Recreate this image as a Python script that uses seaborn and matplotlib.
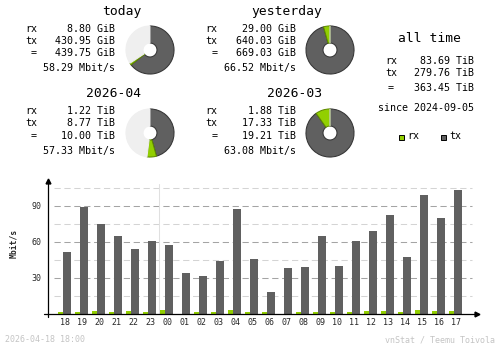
import matplotlib
matplotlib.use("Agg")
import matplotlib.pyplot as plt
from matplotlib.lines import Line2D
from matplotlib.patches import Rectangle
import pandas as pd
import seaborn as sns

# ---- hourly traffic, Mbit/s ----
hours = ["18", "19", "20", "21", "22", "23", "00", "01", "02", "03", "04", "05",
         "06", "07", "08", "09", "10", "11", "12", "13", "14", "15", "16", "17"]
rx_rate = [0.9, 0.9, 1.7, 0.9, 1.7, 0.9, 2.6, 0.0, 0.9, 0.9, 2.6, 0.9,
           0.9, 0.0, 0.9, 0.9, 0.9, 0.9, 1.7, 1.7, 0.9, 2.6, 1.7, 1.7]
tx_rate = [50.9, 88.6, 74.5, 64.2, 53.4, 60.4, 56.8, 33.5, 31.0, 43.8, 86.7, 45.1,
           17.7, 37.7, 38.5, 64.2, 39.3, 60.1, 68.4, 82.5, 46.8, 99.1, 80.0, 103.3]
y_ticks = [30, 60, 90]
minor_grid = [15, 45, 75, 105]

# ---- period summaries ----
periods = ["today", "yesterday", "2026-04", "2026-03"]
period_rx = [8.80, 29.00, 1.22, 1.88]
period_tx = [430.95, 640.03, 8.77, 17.33]
period_total = [439.75, 669.03, 10.00, 19.21]
period_unit = ["GiB", "GiB", "TiB", "TiB"]
period_rate = [58.29, 66.52, 57.33, 63.08]
period_ref = [1, 1, 3, 3]          # donut scaled against the larger of the pair

alltime_rx = 83.69
alltime_tx = 279.76
alltime_total = 363.45
alltime_since = "2024-09-05"
stamp = "2026-04-18 18:00"
credit = "vnStat / Teemu Toivola"

RX = "#92cf00"
RX_EDGE = "#5f8a00"
TX = "#606060"
TX_EDGE = "#353535"
REST = "#efefef"
GRID_D = "#a4a4a4"
GRID_L = "#d4d4d4"
FAINT = "#c4c4c4"

sns.set_style("white")
plt.rcParams["font.family"] = ["DejaVu Sans Mono", "DejaVu Sans"]

W, H = 500, 348
fig = plt.figure(figsize=(W / 100, H / 100), dpi=100)
fig.patch.set_facecolor("white")


def fx(x):
    return x / W


def fy(y):
    return 1 - y / H


def put(x, y, s, ha="left", size=7.2, **kw):
    fig.text(fx(x), fy(y), s, ha=ha, va="center", fontsize=size, color="black", **kw)


# ---- summary text blocks and donuts ----
col_label_x = [25, 205.5]
col_value_x = [115, 295.5]
col_title_x = [141.5, 322]
row_title_y = [11.0, 93.5]
row_line_y = [[28.5, 40.5, 53.5, 68.0], [111.0, 123.5, 136.5, 151.0]]
donut_cx = [150, 330]
donut_cy = [50, 133]

for i, name in enumerate(periods):
    col = i % 2
    row = i // 2
    lx, vx = col_label_x[col], col_value_x[col]
    ys = row_line_y[row]
    u = period_unit[i]
    put(col_title_x[col], row_title_y[row], name, ha="right", size=9.4)
    put(lx, ys[0], "rx")
    put(lx, ys[1], "tx")
    put(lx + 6, ys[2], "=")
    put(vx, ys[0], f"{period_rx[i]:.2f} {u}", ha="right")
    put(vx, ys[1], f"{period_tx[i]:.2f} {u}", ha="right")
    put(vx, ys[2], f"{period_total[i]:.2f} {u}", ha="right")
    put(vx, ys[3], f"{period_rate[i]:.2f} Mbit/s", ha="right")

    ref = max(period_total[i], period_total[period_ref[i]])
    f_tx = period_tx[i] / ref
    f_rx = period_rx[i] / ref
    f_rest = max(0.0, 1 - f_tx - f_rx)
    cx, cy = donut_cx[col], donut_cy[row]
    r = 24
    dax = fig.add_axes([fx(cx - r - 1), fy(cy + r + 1), (2 * r + 2) / W, (2 * r + 2) / H])
    wedges, _ = dax.pie([f_tx, f_rx, f_rest], colors=[TX, RX, REST], startangle=90,
                        counterclock=False, radius=1.0,
                        wedgeprops=dict(width=0.71, linewidth=0.75))
    wedges[0].set_edgecolor(TX_EDGE)
    wedges[1].set_edgecolor(RX_EDGE)
    wedges[2].set_edgecolor(REST)
    dax.set_xlim(-1.04, 1.04)
    dax.set_ylim(-1.04, 1.04)
    dax.set_aspect("equal")
    dax.axis("off")

# all time block
put(429, 39, "all time", ha="center", size=9.4)
put(385, 61.2, "rx")
put(385, 73.0, "tx")
put(387.5, 88.0, "=")
put(474, 61.2, f"{alltime_rx:.2f} TiB", ha="right")
put(474, 73.0, f"{alltime_tx:.2f} TiB", ha="right")
put(474, 88.0, f"{alltime_total:.2f} TiB", ha="right")
put(426.5, 108.0, f"since {alltime_since}", ha="center")

# legend
for sx, col_f, col_e, lab in [(399, RX, RX_EDGE, "rx"), (441, TX, TX_EDGE, "tx")]:
    fig.add_artist(Rectangle((fx(sx), fy(139.5)), 5 / W, 5 / H, transform=fig.transFigure,
                             facecolor=col_f, edgecolor="black", linewidth=0.7))
    put(sx + 8, 136.3, lab)

# ---- hourly bar chart ----
x0_px, x1_px = 48, 477
base_px, top_px = 313.5, 181.0
slot = 17.0
first_label_px = 65.0
xmin = (x0_px - first_label_px) / slot
xmax = (x1_px - first_label_px) / slot
ymax = (base_px - top_px) / 1.2

ax = fig.add_axes([fx(x0_px), fy(base_px), (x1_px - x0_px) / W, (base_px - top_px) / H])
ax.set_facecolor("none")

idx = list(range(len(hours)))
bars = pd.DataFrame({
    "pos_rx": [k - 4.5 / slot for k in idx],
    "pos_tx": [k + 2.0 / slot for k in idx],
    "rx": rx_rate,
    "tx": tx_rate,
})

g0, g1 = (54 - first_label_px) / slot, (472 - first_label_px) / slot
for v in minor_grid:
    ax.plot([g0, g1], [v, v], color=GRID_L, lw=0.75, dashes=(6, 3.5), zorder=0)
for v in y_ticks:
    ax.plot([g0, g1], [v, v], color=GRID_D, lw=0.75, dashes=(6, 3.5), zorder=0)

# day boundary between 23 and 00
day_break = hours.index("00") - 0.5
ax.plot([day_break, day_break], [0, (base_px - 184) / 1.2], color="#e0e0e0", lw=0.75, zorder=0)

sns.barplot(data=bars, x="pos_rx", y="rx", native_scale=True, orient="x",
            width=5 / slot, color=RX, saturation=1, linewidth=0, errorbar=None, ax=ax)
sns.barplot(data=bars, x="pos_tx", y="tx", native_scale=True, orient="x",
            width=8 / slot, color=TX, saturation=1, linewidth=0, errorbar=None, ax=ax)

ax.set_xlim(xmin, xmax)
ax.set_ylim(0, ymax)
for s in ax.spines.values():
    s.set_visible(False)
ax.set_xlabel("")
ax.set_ylabel("")
ax.set_xticks(idx)
ax.set_xticklabels(hours, fontsize=6)
ax.set_yticks(y_ticks)
ax.set_yticklabels([str(v) for v in y_ticks], fontsize=6)
ax.tick_params(axis="both", length=0, pad=5)
ax.tick_params(axis="x", pad=3)

# axis lines with arrow heads
fig.add_artist(Line2D([fx(48), fx(48)], [fy(182), fy(317)], transform=fig.transFigure,
                      color="black", lw=0.9))
fig.add_artist(Line2D([fx(44), fx(476)], [fy(313.5), fy(313.5)], transform=fig.transFigure,
                      color="black", lw=0.9))
ax.plot([xmin], [ymax], marker="^", ms=3.5, color="black", clip_on=False)
ax.plot([xmax], [0], marker=">", ms=3.5, color="black", clip_on=False)

fig.text(fx(14), fy(243), "Mbit/s", rotation=90, ha="center", va="center",
         fontsize=5.8, fontweight="bold")

# footer
fig.text(fx(5), fy(340), stamp, ha="left", va="center", fontsize=6, color=FAINT)
fig.text(fx(495), fy(340), credit, ha="right", va="center", fontsize=6, color=FAINT)

fig.savefig("out.png", dpi=100, facecolor="white")
